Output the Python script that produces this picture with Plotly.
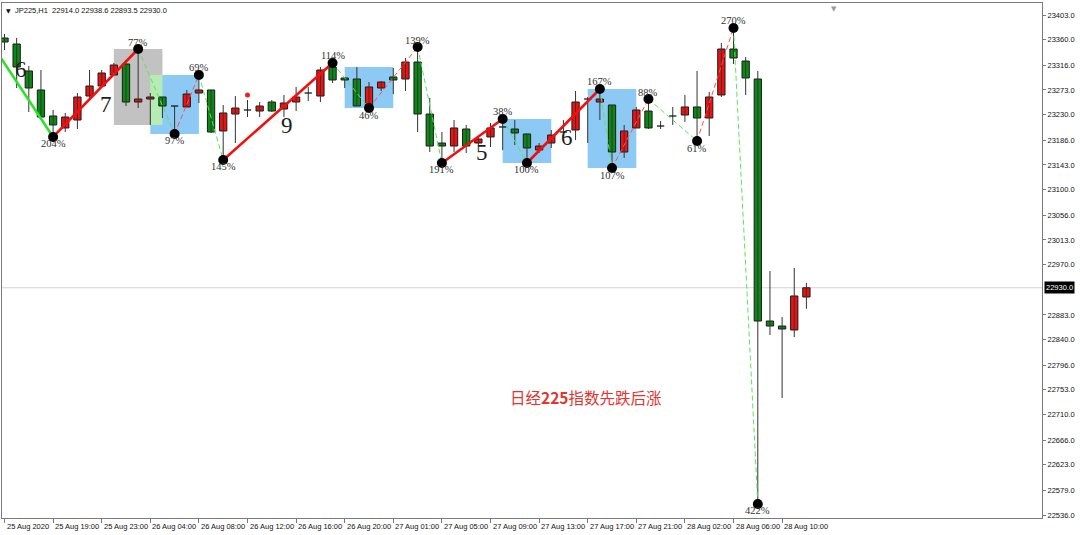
import plotly.graph_objects as go

# ---------------- data ----------------
bar_index = list(range(1, 68))
opens = [23363.1, 23352.7, 23305.9, 23273.0, 23227.9, 23207.1, 23220.9, 23262.5, 23279.9, 23299.0,
         23318.0, 23252.1, 23257.3, 23260.8, 23245.2, 23243.5, 23267.7, 23273.0, 23201.9, 23231.3,
         23238.3, 23236.5, 23252.1, 23240.0, 23252.1, 23267.7, 23262.5, 23312.8, 23293.8, 23292.0,
         23245.2, 23276.4, 23295.5, 23292.0, 23321.5, 23231.3, 23181.0, 23175.8, 23205.3, 23181.0,
         23191.5, 23208.8, 23205.3, 23196.7, 23168.9, 23181.0, 23200.1, 23203.6, 23257.3, 23252.1,
         23246.9, 23165.4, 23207.1, 23236.5, 23210.5, 23227.9, 23229.6, 23243.5, 23224.4, 23264.3,
         23344.0, 23323.2, 23292.0, 22872.4, 22863.7, 22856.8, 22914.0]
highs = [23370.1, 23363.1, 23314.6, 23307.6, 23238.3, 23233.1, 23267.7, 23307.6, 23307.6, 23319.8,
         23325.0, 23344.0, 23267.7, 23260.8, 23245.2, 23273.0, 23299.0, 23273.0, 23246.9, 23262.5,
         23255.6, 23252.1, 23255.6, 23264.3, 23278.2, 23278.2, 23312.8, 23319.8, 23295.5, 23312.8,
         23286.8, 23288.6, 23311.1, 23328.4, 23347.5, 23259.1, 23200.1, 23220.9, 23212.3, 23191.5,
         23215.7, 23222.7, 23220.9, 23196.7, 23181.0, 23203.6, 23220.9, 23271.2, 23260.8, 23274.7,
         23246.9, 23212.3, 23243.5, 23257.3, 23219.2, 23243.5, 23264.3, 23305.9, 23269.5, 23354.4,
         23380.5, 23330.2, 23305.9, 22959.1, 22879.3, 22964.3, 22938.6]
lows = [23342.3, 23276.4, 23234.8, 23226.1, 23191.5, 23200.1, 23205.3, 23255.6, 23278.2, 23299.0,
        23245.2, 23241.7, 23212.3, 23224.4, 23196.7, 23243.5, 23250.4, 23198.4, 23151.6, 23181.0,
        23226.1, 23226.1, 23234.8, 23226.1, 23236.5, 23253.9, 23252.1, 23285.1, 23276.4, 23245.2,
        23241.7, 23271.2, 23266.0, 23271.2, 23200.1, 23165.4, 23146.4, 23165.4, 23163.7, 23175.8,
        23174.1, 23168.9, 23177.6, 23146.4, 23163.7, 23172.4, 23191.5, 23186.3, 23181.0, 23220.9,
        23137.7, 23155.1, 23207.1, 23205.3, 23205.3, 23212.3, 23217.5, 23184.5, 23193.2, 23260.8,
        23318.0, 23264.3, 22555.1, 22848.1, 22738.9, 22844.6, 22893.5]
closes = [23356.2, 23312.8, 23276.4, 23226.1, 23212.3, 23226.1, 23260.8, 23279.9, 23302.4, 23316.3,
          23252.1, 23257.3, 23260.8, 23245.2, 23245.2, 23266.0, 23273.0, 23200.1, 23233.1, 23241.7,
          23238.3, 23245.2, 23236.5, 23250.4, 23260.8, 23267.7, 23307.6, 23290.3, 23290.3, 23245.2,
          23278.2, 23286.8, 23290.3, 23321.5, 23231.3, 23175.8, 23175.8, 23207.1, 23175.8, 23188.0,
          23207.1, 23208.8, 23198.4, 23172.4, 23175.8, 23194.9, 23200.1, 23252.1, 23257.3, 23257.3,
          23165.4, 23201.9, 23238.3, 23207.1, 23210.5, 23227.9, 23243.5, 23224.4, 23260.8, 23344.0,
          23328.4, 23293.8, 22872.4, 22863.7, 22858.5, 22915.8, 22930.0]

x_tick_bars = [1, 5, 9, 13, 17, 21, 25, 29, 33, 37, 41, 45, 49, 53, 57, 61, 65]
x_tick_text = ["25 Aug 2020", "25 Aug 19:00", "25 Aug 23:00", "26 Aug 04:00", "26 Aug 08:00",
               "26 Aug 12:00", "26 Aug 16:00", "26 Aug 20:00", "27 Aug 01:00", "27 Aug 05:00",
               "27 Aug 09:00", "27 Aug 13:00", "27 Aug 17:00", "27 Aug 21:00", "28 Aug 02:00",
               "28 Aug 06:00", "28 Aug 10:00"]
y_tick_vals = [23403, 23360, 23316, 23273, 23230, 23186, 23143, 23100, 23056, 23013, 22970,
               22883, 22840, 22796, 22753, 22710, 22666, 22623, 22579, 22536]

# zigzag pivots
zz_lead_in = (0, 23351.0)
pivot_bars = [5, 12, 15, 17, 19, 28, 31, 35, 37, 42, 44, 50, 51, 54, 58, 61, 63]
pivot_types = ['L', 'H', 'L', 'H', 'L', 'H', 'L', 'H', 'L', 'H', 'L', 'H', 'L', 'H', 'L', 'H', 'L']
pivot_labels = ['204%', '77%', '97%', '69%', '145%', '114%', '46%', '139%', '191%', '38%',
                '100%', '167%', '107%', '88%', '61%', '270%', '422%']
segment_thick = [1, 1, 0, 0, 0, 1, 0, 0, 0, 1, 0, 1, 0, 0, 0, 0, 0]

# boxes: (bar from, bar to, price low, price high)
gray_box = (10, 14, 23212.3, 23344.0)
blue_boxes = [(13, 17, 23196.7, 23299.0), (29, 33, 23241.7, 23312.8),
              (42, 46, 23146.4, 23222.7), (49, 53, 23137.7, 23274.7)]

# wave-count numbers
count_bars = [2.33, 9.35, 24.25, 40.3, 47.3]
count_prices = [23309, 23247, 23212, 23164, 23190]
count_text = ["6", "7", "9", "5", "6"]

marker_dot = (21, 23264.3)
note_text = "日经<b>225</b>指数先跌后涨"
note_pos = (48.86, 22740.6)

# ---------------- styles ----------------
RED = "#F01010"
GREEN = "#0A8A14"
WICK = "#333333"
FRAME = "#7a7a7a"
BLUE_BOX = "#8CC9F4"
GRAY_BOX = "#C2C2C2"
OVERLAP = "#B6EBB4"

fig = go.Figure()

def add_box(b, color):
    fig.add_shape(type="rect", xref="x", yref="y", x0=b[0], x1=b[1], y0=b[2], y1=b[3],
                  fillcolor=color, line=dict(width=0), layer="below")

add_box(gray_box, GRAY_BOX)
for b in blue_boxes:
    add_box(b, BLUE_BOX)
b1 = blue_boxes[0]
ov = (max(gray_box[0], b1[0]), min(gray_box[1], b1[1]),
      max(gray_box[2], b1[2]), min(gray_box[3], b1[3]))
add_box(ov, OVERLAP)

# current price line
fig.add_shape(type="line", xref="paper", yref="y", x0=0, x1=1, y0=closes[-1], y1=closes[-1],
              line=dict(color="#d2d2d2", width=1), layer="below")

# wicks
wx, wy = [], []
for i, h, l in zip(bar_index, highs, lows):
    wx += [i, i, None]
    wy += [l, h, None]
fig.add_trace(go.Scatter(x=wx, y=wy, mode="lines", line=dict(color=WICK, width=1),
                         hoverinfo="skip"))

# bodies
BW = 0.6
up = dict(x=[], base=[], h=[])
dn = dict(x=[], base=[], h=[])
dj_x, dj_y = [], []
for i, o, c in zip(bar_index, opens, closes):
    if abs(c - o) < 0.5:
        dj_x += [i - BW / 2, i + BW / 2, None]
        dj_y += [o, o, None]
    elif c > o:
        up["x"].append(i); up["base"].append(o); up["h"].append(c - o)
    else:
        dn["x"].append(i); dn["base"].append(c); dn["h"].append(o - c)

for d, col in ((up, RED), (dn, GREEN)):
    fig.add_trace(go.Bar(x=d["x"], y=d["h"], base=d["base"], width=BW,
                         marker=dict(color=col, line=dict(color="#1a1a1a", width=1)),
                         hoverinfo="skip"))
fig.add_trace(go.Scatter(x=dj_x, y=dj_y, mode="lines", line=dict(color="#1a1a1a", width=1.3),
                         hoverinfo="skip"))

# zigzag
piv_prices = [highs[b - 1] if t == 'H' else lows[b - 1] for b, t in zip(pivot_bars, pivot_types)]
pts = [zz_lead_in] + list(zip(pivot_bars, piv_prices))
groups = {}
for k in range(len(pts) - 1):
    end_type = pivot_types[k]
    thick = segment_thick[k]
    if thick:
        color = RED if end_type == 'H' else "#2EE02A"
    else:
        color = "#FF5050" if end_type == 'H' else "#55E855"
    gx, gy = groups.setdefault((color, thick), ([], []))
    gx += [pts[k][0], pts[k + 1][0], None]
    gy += [pts[k][1], pts[k + 1][1], None]
for (color, thick), (gx, gy) in groups.items():
    fig.add_trace(go.Scatter(x=gx, y=gy, mode="lines", hoverinfo="skip",
                             line=dict(color=color, width=2.6 if thick else 1,
                                       dash="solid" if thick else "5px,3px")))

# pivot dots
fig.add_trace(go.Scatter(x=pivot_bars, y=piv_prices, mode="markers",
                         marker=dict(color="black", size=10), hoverinfo="skip"))

# red marker dot
fig.add_trace(go.Scatter(x=[marker_dot[0]], y=[marker_dot[1]], mode="markers",
                         marker=dict(color="#F02020", size=5), hoverinfo="skip"))

# pivot labels
for b, p, t, lab in zip(pivot_bars, piv_prices, pivot_types, pivot_labels):
    fig.add_annotation(x=b, y=p, text=lab, showarrow=False, xanchor="center", yanchor="middle",
                       yshift=7 if t == 'H' else -7,
                       font=dict(family="Liberation Serif", size=10.5, color="#333333"))

# count numbers
for b, p, t in zip(count_bars, count_prices, count_text):
    fig.add_annotation(x=b, y=p, text=t, showarrow=False,
                       font=dict(family="Liberation Serif", size=23, color="#1e1e1e"))

# note
fig.add_annotation(x=note_pos[0], y=note_pos[1], text=note_text, showarrow=False,
                   font=dict(family="Noto Sans CJK SC", size=15.5, color="#E5332E"))

# x tick labels (left-aligned after tick, MT4 style)
for b, t in zip(x_tick_bars, x_tick_text):
    fig.add_annotation(x=b, y=0, xref="x", yref="paper", text=t, showarrow=False,
                       xanchor="left", yanchor="top", xshift=0, yshift=-2,
                       font=dict(family="Liberation Sans", size=7.5, color="#111111"))

# current price label
fig.add_annotation(x=1, y=closes[-1], xref="paper", yref="y", text=f"{closes[-1]:.1f}",
                   showarrow=False, xanchor="left", yanchor="middle", xshift=2,
                   bgcolor="black", borderpad=1,
                   font=dict(family="Liberation Sans", size=7.5, color="white"))

# header
fig.add_annotation(x=0, y=1, xref="paper", yref="paper", text="▼", showarrow=False,
                   xanchor="left", yanchor="top", xshift=2, yshift=-2,
                   font=dict(family="DejaVu Sans", size=6, color="#111111"))
fig.add_annotation(x=0, y=1, xref="paper", yref="paper",
                   text=f"JP225,H1  {opens[-1]:.1f} {highs[-1]:.1f} {lows[-1]:.1f} {closes[-1]:.1f}",
                   showarrow=False, xanchor="left", yanchor="top", xshift=11, yshift=-1,
                   font=dict(family="Liberation Sans", size=7.5, color="#111111"))
# chart shift marker
fig.add_annotation(x=0.8, y=1, xref="paper", yref="paper", text="▼", showarrow=False,
                   xanchor="center", yanchor="top", yshift=0,
                   font=dict(family="DejaVu Sans", size=7, color="#9a9a9a"))

fig.update_layout(
    width=1080, height=535,
    margin=dict(l=2, r=38, t=3, b=17, autoexpand=False),
    paper_bgcolor="white", plot_bgcolor="white",
    showlegend=False, barmode="overlay",
    xaxis=dict(range=[0.794, 86.39], showgrid=False, zeroline=False, showline=True,
               linecolor=FRAME, linewidth=1, mirror=True, ticks="outside", ticklen=4,
               tickcolor=FRAME, tickvals=x_tick_bars, showticklabels=False, fixedrange=True),
    yaxis=dict(range=[22530.8, 23423.8], side="right", showgrid=False, zeroline=False,
               showline=True, linecolor=FRAME, linewidth=1, mirror=True, ticks="outside",
               ticklen=3, tickcolor=FRAME, tickvals=y_tick_vals,
               ticktext=[f"{v:.1f}" for v in y_tick_vals],
               tickfont=dict(family="Liberation Sans", size=7.5, color="#111111")),
)

fig.write_html("out.html", config={"displayModeBar": False},
               post_script="document.body.style.margin='0px';")
